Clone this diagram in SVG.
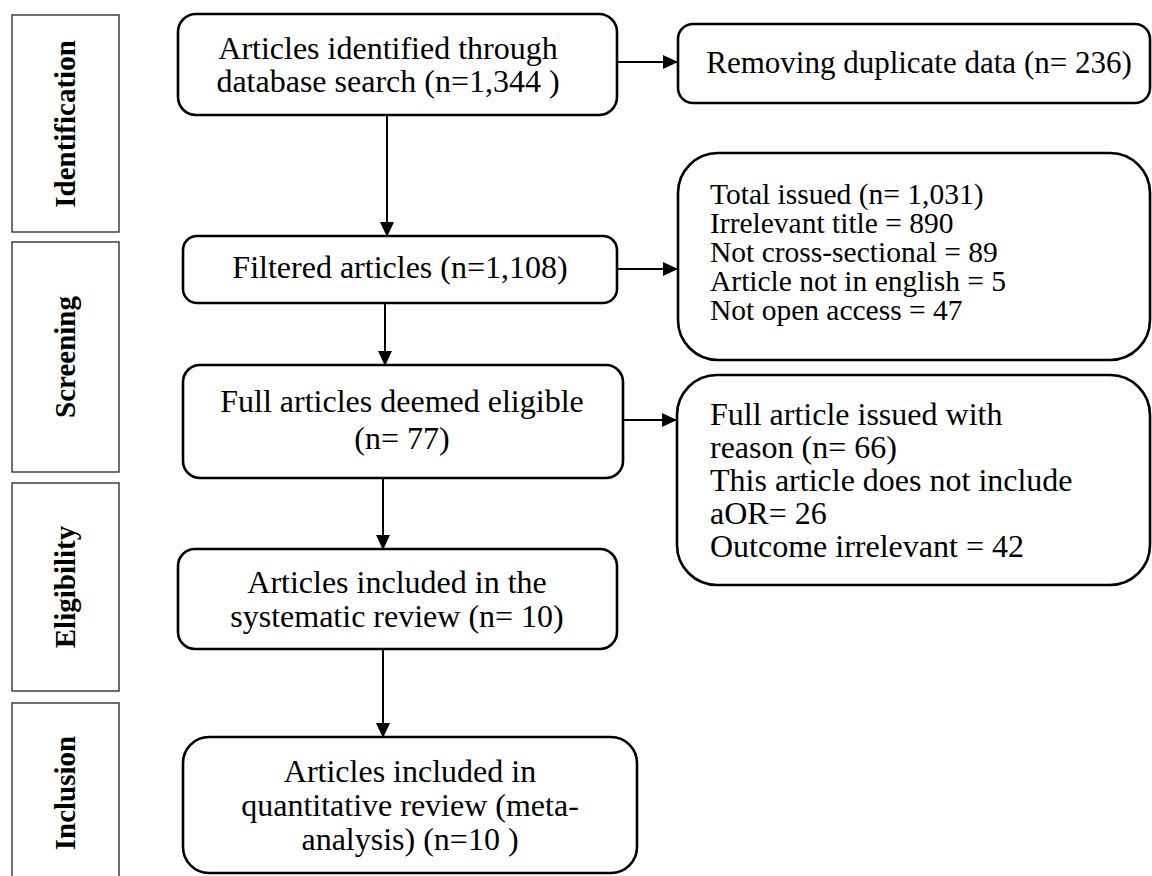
<svg xmlns="http://www.w3.org/2000/svg" width="1152" height="876" viewBox="0 0 1152 876">
<style>
.bg{fill:#fff}
.stage{fill:#fff;stroke:#333;stroke-width:1.4}
.box{fill:#fff;stroke:#000;stroke-width:2.6}
.lbl{font-family:"Liberation Serif","Times New Roman",serif;font-weight:bold;font-size:29px;fill:#000;text-anchor:middle}
.t{font-family:"Liberation Serif","Times New Roman",serif;font-size:32px;fill:#000}
.s{font-size:29.5px}
.c{text-anchor:middle}
.conn{stroke:#000;stroke-width:2;fill:none;marker-end:url(#ah)}
</style>
<defs>
<marker id="ah" markerWidth="16" markerHeight="14" refX="15" refY="7" orient="auto" markerUnits="userSpaceOnUse">
<path d="M0,0 L15,7 L0,14 Z" fill="#000"/>
</marker>
</defs>
<rect class="bg" x="0" y="0" width="1152" height="876"/>

<g id="stage-identification">
<rect class="stage" x="12" y="15" width="107" height="217"/>
<text class="lbl" transform="translate(75,124) rotate(-90)">Identification</text>
</g>
<g id="stage-screening">
<rect class="stage" x="12" y="242" width="107" height="230"/>
<text class="lbl" transform="translate(75,357) rotate(-90)">Screening</text>
</g>
<g id="stage-eligibility">
<rect class="stage" x="12" y="483" width="107" height="208"/>
<text class="lbl" transform="translate(75,587) rotate(-90)">Eligibility</text>
</g>
<g id="stage-inclusion">
<rect class="stage" x="12" y="703" width="107" height="190"/>
<text class="lbl" transform="translate(75,793) rotate(-90)">Inclusion</text>
</g>

<g id="connectors">
<line class="conn" x1="617" y1="62" x2="678" y2="62"/>
<line class="conn" x1="387" y1="115" x2="387" y2="237"/>
<line class="conn" x1="617" y1="269" x2="678" y2="269"/>
<line class="conn" x1="385" y1="303" x2="385" y2="366"/>
<line class="conn" x1="623" y1="420" x2="677" y2="420"/>
<line class="conn" x1="383" y1="478" x2="383" y2="550"/>
<line class="conn" x1="383" y1="649" x2="383" y2="738"/>
</g>

<g id="n-identified">
<rect class="box" x="178" y="14" width="439" height="101" rx="18"/>
<text class="t c" x="388" y="59">Articles identified through</text>
<text class="t c" x="388" y="92">database search (n=1,344 )</text>
</g>
<g id="n-duplicates">
<rect class="box" x="678" y="24" width="472" height="79" rx="15"/>
<text class="t c" x="919" y="73" style="font-size:31px">Removing duplicate data (n= 236)</text>
</g>
<g id="n-filtered">
<rect class="box" x="183" y="236" width="434" height="67" rx="14"/>
<text class="t c" x="400" y="278">Filtered articles (n=1,108)</text>
</g>
<g id="n-excluded">
<rect class="box" x="678" y="153" width="472" height="207" rx="40"/>
<text class="t s" x="710" y="204">Total issued (n= 1,031)</text>
<text class="t s" x="710" y="233">Irrelevant title = 890</text>
<text class="t s" x="710" y="262">Not cross-sectional = 89</text>
<text class="t s" x="710" y="291">Article not in english = 5</text>
<text class="t s" x="710" y="320">Not open access = 47</text>
</g>
<g id="n-eligible">
<rect class="box" x="183" y="365" width="440" height="113" rx="17"/>
<text class="t c" x="402" y="412">Full articles deemed eligible</text>
<text class="t c" x="402" y="449">(n= 77)</text>
</g>
<g id="n-fulltext-excluded">
<rect class="box" x="677" y="375" width="473" height="210" rx="40"/>
<text class="t" x="710" y="425">Full article issued with</text>
<text class="t" x="710" y="458">reason (n= 66)</text>
<text class="t" x="710" y="491">This article does not include</text>
<text class="t" x="710" y="524">aOR= 26</text>
<text class="t" x="710" y="557">Outcome irrelevant = 42</text>
</g>
<g id="n-systematic">
<rect class="box" x="178" y="549" width="439" height="100" rx="17"/>
<text class="t c" x="397" y="593">Articles included in the</text>
<text class="t c" x="397" y="627">systematic review (n= 10)</text>
</g>
<g id="n-meta">
<rect class="box" x="183" y="737" width="454" height="136" rx="26"/>
<text class="t c" x="410" y="782">Articles included in</text>
<text class="t c" x="410" y="816">quantitative review (meta-</text>
<text class="t c" x="410" y="850">analysis) (n=10 )</text>
</g>
</svg>
